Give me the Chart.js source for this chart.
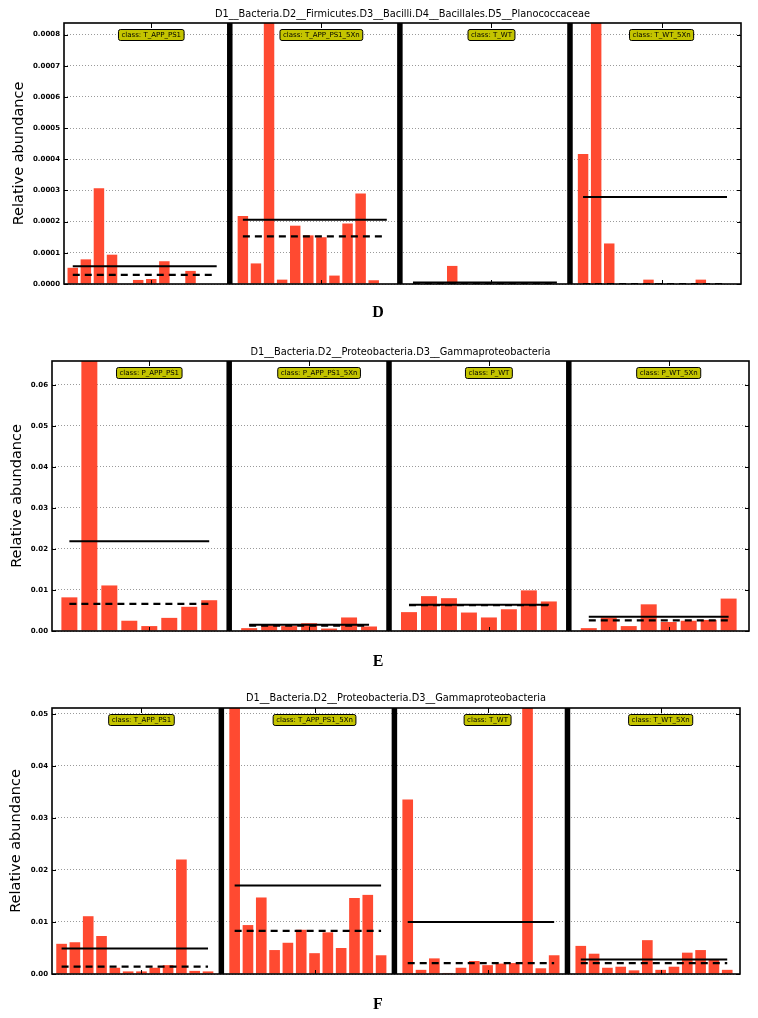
<!DOCTYPE html>
<html><head><meta charset="utf-8">
<script src="https://cdn.jsdelivr.net/npm/chart.js@4.4.1/dist/chart.umd.min.js"></script>
<style>
html,body{margin:0;padding:0;background:#fff;}
body{width:758px;height:1018px;position:relative;overflow:hidden;}
.panel{position:absolute;left:0;width:758px;}
canvas{display:block;}
</style></head><body>
<div class="panel" style="top:0px;height:330px"><canvas id="cD" width="758" height="330"></canvas></div>
<div class="panel" style="top:330px;height:345px"><canvas id="cE" width="758" height="345"></canvas></div>
<div class="panel" style="top:675px;height:343px"><canvas id="cF" width="758" height="343"></canvas></div>
<script>
// ---------- Panel D ----------
const dTitle = "D1__Bacteria.D2__Firmicutes.D3__Bacilli.D4__Bacillales.D5__Planococcaceae";
const dClasses = ["class: T_APP_PS1", "class: T_APP_PS1_5Xn", "class: T_WT", "class: T_WT_5Xn"];
const dT_APP_PS1 = [0.000052, 0.000079, 0.000307, 0.000094, 0, 0.000013, 0.000016, 0.000073, 0, 0.000042, 0, 0];
const dT_APP_PS1_5Xn = [0.000218, 0.000066, 0.00118, 0.000014, 0.000187, 0.000156, 0.00015, 0.000027, 0.000194, 0.00029, 0.000012, 0];
const dT_WT = [0, 0, 0, 0.000058, 0, 0, 0, 0, 0, 0, 0, 0];
const dT_WT_5Xn = [0.000417, 0.00276, 0.00013, 0, 0, 0.000014, 0, 0, 0, 0.000014, 0, 0];
const dMeans = [0.000057, 0.000206, 0.0000048, 0.000279];
const dMedians = [0.000029, 0.000153, 0, 0];
const dTicks = [0, 0.0001, 0.0002, 0.0003, 0.0004, 0.0005, 0.0006, 0.0007, 0.0008];
const dTickLabels = ["0.0000", "0.0001", "0.0002", "0.0003", "0.0004", "0.0005", "0.0006", "0.0007", "0.0008"];

// ---------- Panel E ----------
const eTitle = "D1__Bacteria.D2__Proteobacteria.D3__Gammaproteobacteria";
const eClasses = ["class: P_APP_PS1", "class: P_APP_PS1_5Xn", "class: P_WT", "class: P_WT_5Xn"];
const eP_APP_PS1 = [0.0082, 0.136, 0.0111, 0.0025, 0.0012, 0.0032, 0.0059, 0.0075];
const eP_APP_PS1_5Xn = [0.0007, 0.0014, 0.0012, 0.0019, 0.0006, 0.0033, 0.0011];
const eP_WT = [0.0046, 0.0085, 0.008, 0.0045, 0.0033, 0.0053, 0.0099, 0.0072];
const eP_WT_5Xn = [0.0007, 0.0033, 0.0012, 0.0065, 0.0022, 0.0025, 0.0027, 0.0079];
const eMeans = [0.0219, 0.0015, 0.0064, 0.0035];
const eMedians = [0.0066, 0.0013, 0.0063, 0.0026];
const eTicks = [0, 0.01, 0.02, 0.03, 0.04, 0.05, 0.06];
const eTickLabels = ["0.00", "0.01", "0.02", "0.03", "0.04", "0.05", "0.06"];

// ---------- Panel F ----------
const fTitle = "D1__Bacteria.D2__Proteobacteria.D3__Gammaproteobacteria";
const fClasses = ["class: T_APP_PS1", "class: T_APP_PS1_5Xn", "class: T_WT", "class: T_WT_5Xn"];
const fT_APP_PS1 = [0.0058, 0.0061, 0.0111, 0.0073, 0.0012, 0.0005, 0.0005, 0.0012, 0.0017, 0.022, 0.0006, 0.0005];
const fT_APP_PS1_5Xn = [0.110, 0.0094, 0.0147, 0.0046, 0.006, 0.0085, 0.004, 0.008, 0.005, 0.0146, 0.0152, 0.0036];
const fT_WT = [0.0335, 0.0008, 0.003, 0.0002, 0.0012, 0.0025, 0.0017, 0.002, 0.0021, 0.068, 0.0011, 0.0036];
const fT_WT_5Xn = [0.0054, 0.0039, 0.0012, 0.0014, 0.0007, 0.0065, 0.0008, 0.0014, 0.0041, 0.0046, 0.0028, 0.0008];
const fMeans = [0.0049, 0.017, 0.01, 0.0028];
const fMedians = [0.0014, 0.0083, 0.0021, 0.0021];
const fTicks = [0, 0.01, 0.02, 0.03, 0.04, 0.05];
const fTickLabels = ["0.00", "0.01", "0.02", "0.03", "0.04", "0.05"];

const BAR_COLOR = '#ff4a31';
const FONT = '"DejaVu Sans", "Liberation Sans", sans-serif';

const decor = {
  id: 'decor',
  afterDatasetsDraw(chart, args, o) {
    const {ctx, chartArea: a, scales: {x, y}} = chart;
    ctx.save();
    ctx.strokeStyle = '#000';
    ctx.lineWidth = 1;
    y.ticks.forEach(t => {
      const py = Math.round(y.getPixelForValue(t.value)) + 0.5;
      ctx.beginPath();
      ctx.moveTo(a.left, py); ctx.lineTo(a.left + 4, py);
      ctx.moveTo(a.right - 4, py); ctx.lineTo(a.right, py);
      ctx.stroke();
    });
    o.groups.forEach(g => {
      const px = Math.round(x.getPixelForValue(g.tick)) + 0.5;
      ctx.beginPath();
      ctx.moveTo(px, a.top); ctx.lineTo(px, a.top + 5);
      ctx.moveTo(px, a.bottom); ctx.lineTo(px, a.bottom - 4);
      ctx.stroke();
    });
    ctx.lineWidth = 1.6;
    ctx.strokeRect(a.left, a.top, a.right - a.left, a.bottom - a.top);
    ctx.font = '7px ' + FONT;
    ctx.textAlign = 'center';
    ctx.textBaseline = 'middle';
    o.groups.forEach(g => {
      const px = x.getPixelForValue(g.label);
      const w = ctx.measureText(g.text).width + 6;
      const h = 11;
      const cy = a.top + o.labelOffset;
      ctx.beginPath();
      ctx.roundRect(px - w / 2, cy - h / 2, w, h, 2);
      ctx.fillStyle = '#c4c400';
      ctx.fill();
      ctx.lineWidth = 1;
      ctx.strokeStyle = '#000';
      ctx.stroke();
      ctx.fillStyle = '#000';
      ctx.fillText(g.text, px, cy + 0.5);
    });
    ctx.restore();
  },
  afterDraw(chart, args, o) {
    const {ctx, chartArea: a} = chart;
    ctx.save();
    ctx.fillStyle = '#000';
    ctx.textAlign = 'center';
    ctx.textBaseline = 'middle';
    ctx.font = '9.8px ' + FONT;
    ctx.fillText(o.title, (a.left + a.right) / 2, o.titleY);
    ctx.font = 'bold 16px "Liberation Serif", "DejaVu Serif", serif';
    ctx.fillText(o.letter, 378, o.letterY);
    ctx.restore();
  }
};

function makePanel(id, cfg) {
  const bars = [], meanLine = [], medLine = [], sepLine = [], groups = [];
  let pos = 0;
  cfg.groups.forEach((vals, gi) => {
    const first = pos;
    vals.forEach(v => { bars.push({x: pos, y: v}); pos++; });
    const last = pos - 1;
    const n = vals.length;
    meanLine.push({x: first, y: cfg.means[gi]}, {x: last, y: cfg.means[gi]}, {x: last + 0.5, y: null});
    medLine.push({x: first, y: cfg.medians[gi]}, {x: last, y: cfg.medians[gi]}, {x: last + 0.5, y: null});
    groups.push({text: cfg.classes[gi], tick: first + Math.floor(n / 2), label: first + n / 2});
    if (gi < cfg.groups.length - 1) {
      sepLine.push({x: pos, y: 0}, {x: pos, y: cfg.yMax}, {x: pos + 0.5, y: null});
      pos++;
    }
  });
  const H = document.getElementById(id).height;
  return new Chart(document.getElementById(id), {
    type: 'bar',
    data: {
      datasets: [
        {type: 'line', data: meanLine, borderColor: '#000', borderWidth: 2, pointRadius: 0, spanGaps: false, fill: false, order: 1},
        {type: 'line', data: medLine, borderColor: '#000', borderWidth: 2.2, borderDash: [7, 5], pointRadius: 0, spanGaps: false, fill: false, order: 1},
        {type: 'line', data: sepLine, borderColor: '#000', borderWidth: 5.5, borderCapStyle: 'butt', pointRadius: 0, spanGaps: false, fill: false, order: 2},
        {type: 'bar', data: bars, backgroundColor: BAR_COLOR, borderWidth: 0, barPercentage: 0.8, categoryPercentage: 1.0, order: 3}
      ]
    },
    options: {
      responsive: false,
      animation: false,
      devicePixelRatio: 1,
      layout: {padding: {left: 0, right: 758 - cfg.plotRight, top: cfg.plotTop, bottom: H - cfg.plotBottom}},
      plugins: {
        legend: {display: false},
        tooltip: {enabled: false},
        decor: {groups: groups, title: cfg.title, titleY: cfg.titleY, letter: cfg.letter, letterY: cfg.letterY, labelOffset: 12}
      },
      scales: {
        x: {type: 'linear', min: cfg.xMin, max: cfg.xMax, offset: false, display: false, grid: {display: false}},
        y: {
          type: 'linear', min: 0, max: cfg.yMax,
          afterBuildTicks: s => { s.ticks = cfg.ticks.map(v => ({value: v})); },
          afterFit: s => { s.width = cfg.plotLeft; },
          ticks: {callback: (v, i) => cfg.tickLabels[i], color: '#000', padding: 4, font: {size: 7, weight: 'bold', family: FONT}},
          grid: {color: '#9a9a9a', lineWidth: 1, drawTicks: false},
          border: {display: false, dash: [1, 2]},
          title: {display: true, text: 'Relative abundance', color: '#000', font: {size: 14.5, family: FONT}, padding: {top: cfg.yTitlePad, bottom: 0}}
        }
      }
    },
    plugins: [decor]
  });
}

makePanel('cD', {
  title: dTitle, classes: dClasses, groups: [dT_APP_PS1, dT_APP_PS1_5Xn, dT_WT, dT_WT_5Xn],
  means: dMeans, medians: dMedians, ticks: dTicks, tickLabels: dTickLabels,
  yMax: 0.000837, xMin: -0.67, xMax: 51.07,
  plotLeft: 64, plotRight: 741, plotTop: 23, plotBottom: 284,
  titleY: 14, letter: 'D', letterY: 313, yTitlePad: 11
});
makePanel('cE', {
  title: eTitle, classes: eClasses, groups: [eP_APP_PS1, eP_APP_PS1_5Xn, eP_WT, eP_WT_5Xn],
  means: eMeans, medians: eMedians, ticks: eTicks, tickLabels: eTickLabels,
  yMax: 0.0658, xMin: -0.87, xMax: 34.02,
  plotLeft: 52, plotRight: 749, plotTop: 31, plotBottom: 301,
  titleY: 22, letter: 'E', letterY: 332, yTitlePad: 9
});
makePanel('cF', {
  title: fTitle, classes: fClasses, groups: [fT_APP_PS1, fT_APP_PS1_5Xn, fT_WT, fT_WT_5Xn],
  means: fMeans, medians: fMedians, ticks: fTicks, tickLabels: fTickLabels,
  yMax: 0.0511, xMin: -0.72, xMax: 50.96,
  plotLeft: 52, plotRight: 740, plotTop: 33, plotBottom: 299,
  titleY: 23, letter: 'F', letterY: 330, yTitlePad: 7.5
});
</script>
</body></html>
